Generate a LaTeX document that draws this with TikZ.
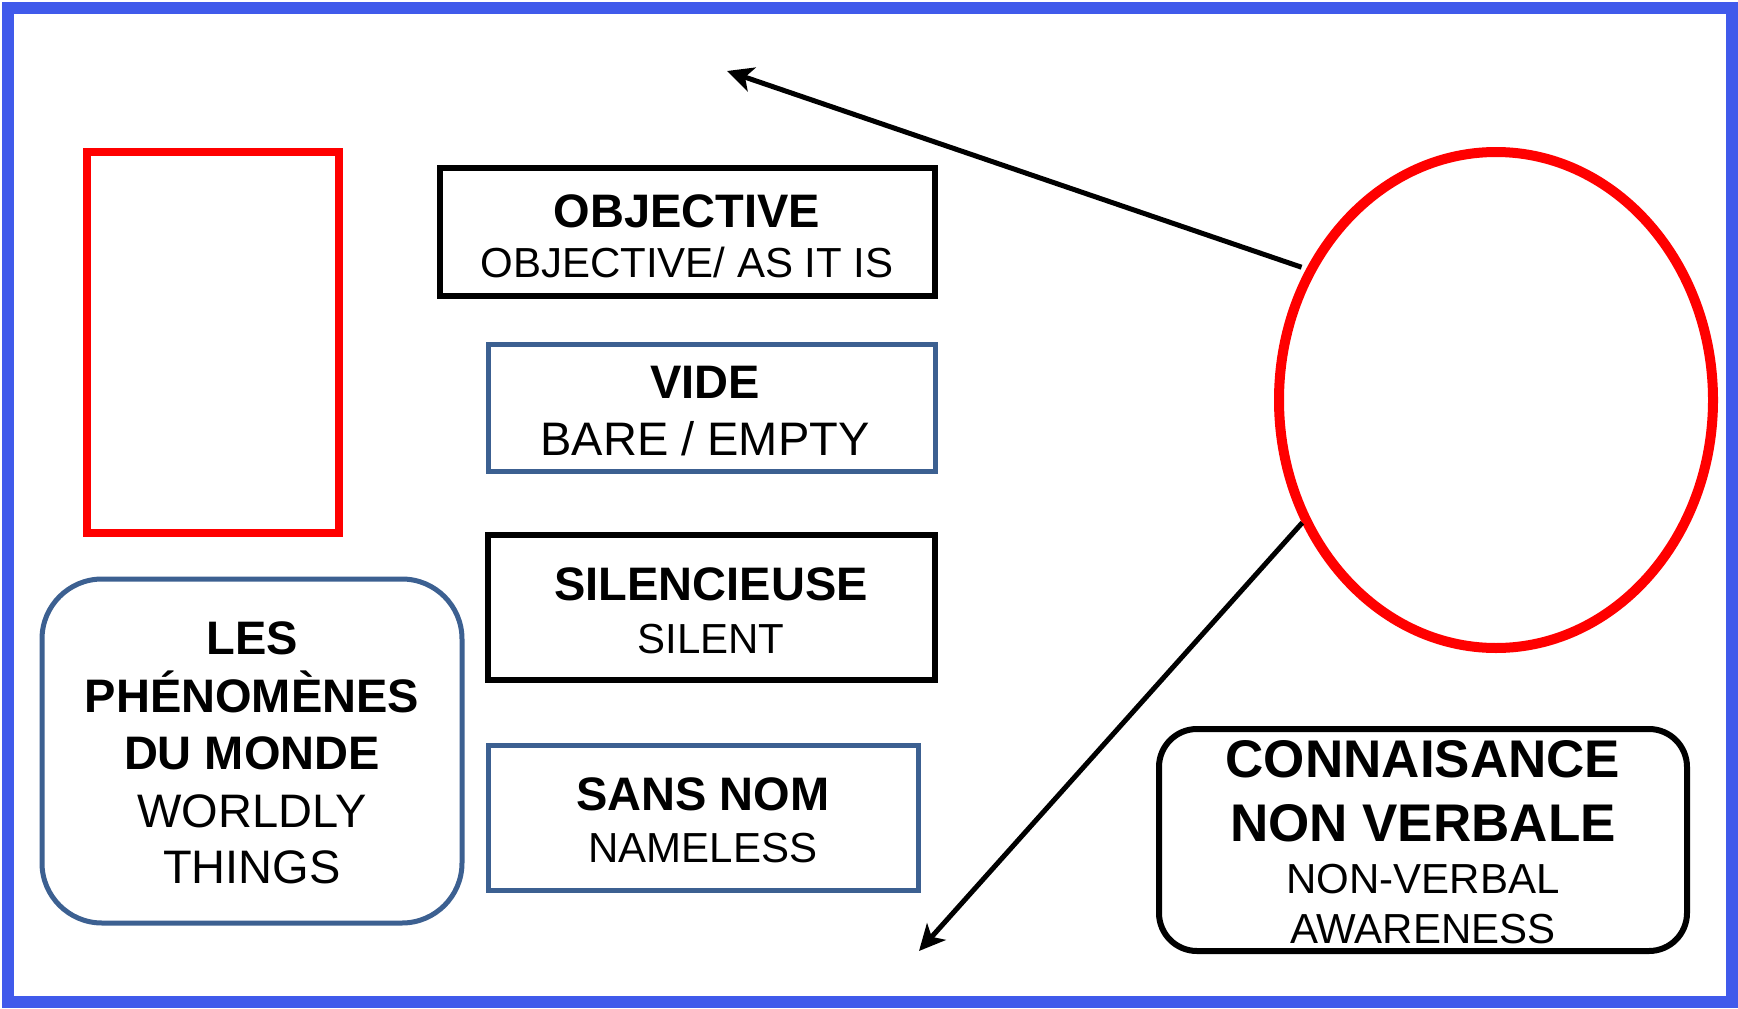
\documentclass[tikz,border=0pt]{standalone}
\usepackage{fontspec}
\setmainfont{Liberation Sans}
\usetikzlibrary{shapes.geometric,arrows.meta}
\definecolor{frameblue}{RGB}{64,90,235}
\definecolor{steel}{RGB}{60,96,145}
\definecolor{redline}{RGB}{255,0,0}
\begin{document}
\begin{tikzpicture}[x=1pt,y=-1pt,
  blackbox/.style={draw=black,line width=6pt,inner sep=0pt,outer sep=0pt},
  bluebox/.style={draw=steel,line width=5pt,inner sep=0pt,outer sep=0pt},
  ttl/.style={anchor=base,inner sep=0pt,font=\fontsize{47}{56}\selectfont\bfseries},
  ttlbig/.style={anchor=base,inner sep=0pt,font=\fontsize{53}{60}\selectfont\bfseries},
  sub/.style={anchor=base,inner sep=0pt,font=\fontsize{42}{50}\selectfont},
  subbig/.style={anchor=base,inner sep=0pt,font=\fontsize{47}{56}\selectfont},
  conn/.style={-{Stealth[length=26pt,width=25pt,inset=7pt]},line width=5pt}]
\useasboundingbox (0,0) rectangle (1738,1009);
\fill[white] (0,0) rectangle (1738,1009);
\draw[frameblue,line width=12pt] (8,8) rectangle (1732,1002);

% red rectangle
\node[draw=redline,line width=8pt,minimum width=252pt,minimum height=381pt,inner sep=0pt] (redrect) at (213,342.5) {};

% OBJECTIVE
\node[blackbox,minimum width=495pt,minimum height=128pt] (objbox) at (687,232) {};
\node[ttl] (objA) at (687,227) {OBJECTIVE};
\node[sub] (objB) at (687,277) {OBJECTIVE/ AS IT IS};

% VIDE
\node[bluebox,minimum width=447pt,minimum height=127pt] (videbox) at (711.5,407.5) {};
\node[ttl] (videA) at (705,398) {VIDE};
\node[subbig] (videB) at (705,455) {BARE / EMPTY};

% SILENCIEUSE
\node[blackbox,minimum width=447pt,minimum height=145pt] (silbox) at (711.5,607.5) {};
\node[ttl] (silA) at (711,600) {SILENCIEUSE};
\node[sub] (silB) at (711,653) {SILENT};

% SANS NOM
\node[bluebox,minimum width=430pt,minimum height=145pt] (sansbox) at (703,817.5) {};
\node[ttl] (sansA) at (703,810) {SANS NOM};
\node[sub] (sansB) at (703,862) {NAMELESS};

% LES PHENOMENES
\node[bluebox,rounded corners=60pt,minimum width=420pt,minimum height=344pt] (lesbox) at (252,751) {};
\node[ttl] (les1) at (252,654) {LES};
\node[ttl] (les2) at (252,712) {PHÉNOMÈNES};
\node[ttl] (les3) at (252,769) {DU MONDE};
\node[subbig] (les4) at (252,827) {WORLDLY};
\node[subbig] (les5) at (252,883) {THINGS};

% ellipse
\node[ellipse,draw=redline,line width=10pt,minimum width=434pt,minimum height=496pt,inner sep=0pt,outer sep=0pt] (ell) at (1496,400) {};

% CONNAISANCE
\node[blackbox,rounded corners=38pt,minimum width=528pt,minimum height=222pt] (connbox) at (1423,840) {};
\node[ttlbig] (conn1) at (1423,777) {CONNAISANCE};
\node[ttlbig] (conn2) at (1423,841) {NON VERBALE};
\node[sub] (conn3) at (1423,893) {NON-VERBAL};
\node[sub] (conn4) at (1423,943) {AWARENESS};

% arrows
\coordinate (tipA) at (727,71);
\coordinate (tipB) at (919,951);
\draw[conn,shorten <=10pt] (ell.145) -- (tipA);
\draw[conn,shorten <=5pt] (ell.212) -- (tipB);
\end{tikzpicture}
\end{document}
